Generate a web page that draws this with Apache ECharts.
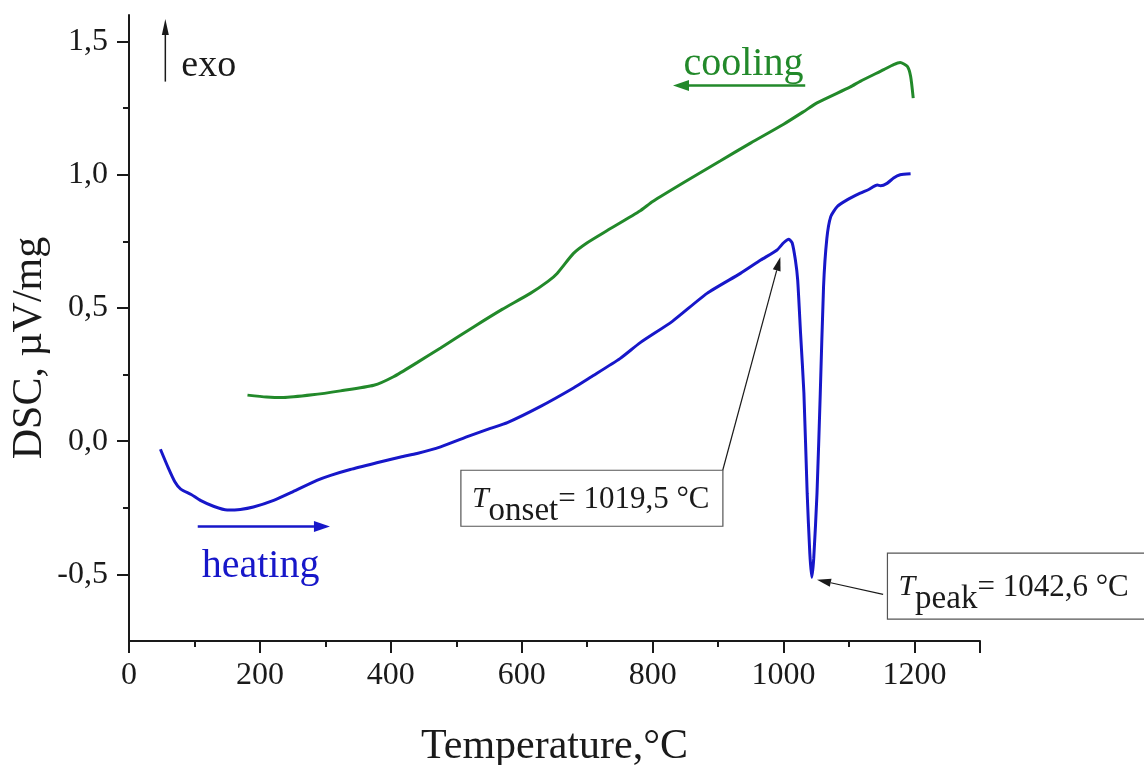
<!DOCTYPE html>
<html>
<head>
<meta charset="utf-8">
<title>DSC curve</title>
<script src="https://cdn.jsdelivr.net/npm/echarts@6/dist/echarts.min.js"></script>
<style>
  html, body { margin: 0; padding: 0; background: #fff; }
  #chart { width: 1144px; height: 765px; }
</style>
</head>
<body>
<div id="chart"></div>
<script>
// heating curve (blue): [temperature °C, DSC µV/mg]
const heating = [
  [48, -0.03], [60, -0.1], [70, -0.152], [79, -0.18], [95, -0.2], [109, -0.222],
  [130, -0.245], [150, -0.258], [170, -0.256], [190, -0.247], [221, -0.222],
  [250, -0.19], [287, -0.147], [308, -0.128], [338, -0.106], [380, -0.08],
  [415, -0.059], [440, -0.046], [476, -0.021], [520, 0.02], [552, 0.048],
  [578, 0.07], [628, 0.13], [679, 0.2], [705, 0.24], [750, 0.31], [781, 0.37],
  [830, 0.45], [883, 0.555], [934, 0.63], [965, 0.68], [990, 0.718],
  [1000, 0.745], [1008, 0.758], [1013, 0.745], [1018, 0.68], [1021.5, 0.605],
  [1026, 0.4], [1031, 0.18], [1036, -0.196], [1040, -0.42], [1043, -0.511],
  [1046, -0.44], [1051, -0.196], [1056, 0.18], [1061, 0.58], [1066, 0.76],
  [1072, 0.843], [1082, 0.881], [1097, 0.906], [1117, 0.931], [1130, 0.945],
  [1143, 0.962], [1148, 0.959], [1158, 0.968], [1168, 0.988], [1178, 1.0],
  [1194, 1.004]
];

// cooling curve (green)
const cooling = [
  [181, 0.173], [210, 0.166], [236, 0.164], [280, 0.174], [323, 0.189],
  [374, 0.21], [404, 0.242], [440, 0.295], [476, 0.35], [527, 0.43],
  [570, 0.495], [613, 0.555], [640, 0.6], [654, 0.63], [679, 0.705],
  [700, 0.745], [730, 0.79], [781, 0.865], [800, 0.9], [850, 0.975],
  [903, 1.052], [950, 1.12], [1000, 1.19], [1031, 1.238], [1051, 1.27],
  [1102, 1.33], [1117, 1.351], [1153, 1.395], [1168, 1.414], [1178, 1.422],
  [1189, 1.407], [1194, 1.37], [1198, 1.288]
];

const xMajorTicks = [0, 200, 400, 600, 800, 1000, 1200];
const xMinorTicks = [100, 300, 500, 700, 900, 1100];
const yMajorTicks = [-0.5, 0, 0.5, 1.0, 1.5];
const yMinorTicks = [-0.25, 0.25, 0.75, 1.25];

const tOnset = '1019,5 °C';
const tPeak = '1042,6 °C';

const BLUE = '#1717c9';
const GREEN = '#22892a';
const INK = '#1a1a1a';
const FONT = 'Liberation Serif';

const chart = echarts.init(document.getElementById('chart'));

const labelStyle = { fontFamily: FONT, fontSize: 32, color: INK };

chart.setOption({
  animation: false,
  backgroundColor: '#fff',
  grid: { left: 129, right: 164, top: 15, bottom: 124, outerBoundsMode: 'none' },
  xAxis: [
    {
      type: 'value', min: 0, max: 1300, position: 'bottom',
      name: 'Temperature,°C', nameLocation: 'middle', nameGap: 85,
      nameTextStyle: { fontFamily: FONT, fontSize: 42, color: INK },
      axisLine: { onZero: false, lineStyle: { color: INK, width: 2 } },
      axisTick: { length: 12, lineStyle: { color: INK, width: 2 }, customValues: xMajorTicks.concat([1300]) },
      axisLabel: Object.assign({ margin: 19, customValues: xMajorTicks, formatter: v => String(v) }, labelStyle),
      splitLine: { show: false }
    },
    {
      type: 'value', min: 0, max: 1300, position: 'bottom',
      axisLine: { show: false, onZero: false },
      axisTick: { length: 6, lineStyle: { color: INK, width: 2 }, customValues: xMinorTicks },
      axisLabel: { show: false },
      splitLine: { show: false }
    }
  ],
  yAxis: [
    {
      type: 'value', min: -0.75, max: 1.6, position: 'left',
      name: 'DSC, µV/mg', nameLocation: 'middle', nameGap: 78, nameRotate: 90,
      nameMoveOverlap: false,
      nameTextStyle: { fontFamily: FONT, fontSize: 42, color: INK, padding: [0, 40, 0, 0] },
      axisLine: { show: true, onZero: false, lineStyle: { color: INK, width: 2 } },
      axisTick: { show: true, length: 12, lineStyle: { color: INK, width: 2 }, customValues: yMajorTicks },
      axisLabel: Object.assign({
        margin: 21, customValues: yMajorTicks,
        formatter: v => v.toFixed(1).replace('.', ',')
      }, labelStyle),
      splitLine: { show: false }
    },
    {
      type: 'value', min: -0.75, max: 1.6, position: 'left',
      axisLine: { show: false, onZero: false },
      axisTick: { show: true, length: 6, lineStyle: { color: INK, width: 2 }, customValues: yMinorTicks },
      axisLabel: { show: false },
      splitLine: { show: false }
    }
  ],
  series: [
    {
      name: 'cooling', type: 'line', data: cooling, showSymbol: false, smooth: 0.2,
      lineStyle: { color: GREEN, width: 3 }, itemStyle: { color: GREEN }
    },
    {
      name: 'heating', type: 'line', data: heating, showSymbol: false, smooth: 0.2,
      lineStyle: { color: BLUE, width: 3 }, itemStyle: { color: BLUE }
    }
  ]
});

// annotations, anchored in data coordinates
const px = p => chart.convertToPixel({ xAxisIndex: 0, yAxisIndex: 0 }, p);

function arrow(from, to, color, width, headLen, headW) {
  const a = px(from), b = px(to);
  const dx = b[0] - a[0], dy = b[1] - a[1];
  const len = Math.hypot(dx, dy);
  const ux = dx / len, uy = dy / len;
  const bx = b[0] - ux * headLen, by = b[1] - uy * headLen;
  return [
    { type: 'line', shape: { x1: a[0], y1: a[1], x2: bx, y2: by }, style: { stroke: color, lineWidth: width } },
    {
      type: 'polygon',
      shape: { points: [[b[0], b[1]], [bx - uy * headW / 2, by + ux * headW / 2], [bx + uy * headW / 2, by - ux * headW / 2]] },
      style: { fill: color }
    }
  ];
}

function text(at, str, color, size) {
  const p = px(at);
  return {
    type: 'text', x: p[0], y: p[1],
    style: { text: str, fill: color, fontFamily: FONT, fontSize: size, verticalAlign: 'middle', align: 'left' }
  };
}

function tempBox(at, w, h, sub, value) {
  const p = px(at);
  return [
    { type: 'rect', shape: { x: p[0], y: p[1], width: w, height: h }, style: { fill: '#fff', stroke: '#555', lineWidth: 1.2 } },
    {
      type: 'text', x: p[0] + 11, y: p[1] + h / 2 + 1,
      style: {
        text: '{t|T}{s|' + sub + '}{v|= ' + value + '}',
        verticalAlign: 'middle', align: 'left',
        rich: {
          t: { fontFamily: FONT, fontSize: 30, fontStyle: 'italic', fill: INK, lineHeight: 30, verticalAlign: 'top' },
          s: { fontFamily: FONT, fontSize: 33, fill: INK, lineHeight: 30, padding: [11, 0, 0, 0], verticalAlign: 'top' },
          v: { fontFamily: FONT, fontSize: 31, fill: INK, lineHeight: 30, verticalAlign: 'top' }
        }
      }
    }
  ];
}

const onsetArrowFrom = [907, -0.109];
const onsetArrowTo = [995, 0.692];
const peakArrowFrom = [1152, -0.575];
const peakArrowTo = [1051, -0.52];

chart.setOption({
  graphic: [].concat(
    arrow([55.5, 1.35], [55.5, 1.585], INK, 1.5, 16, 7),
    [text([80, 1.41], 'exo', INK, 38)],
    arrow([1033, 1.335], [831, 1.335], GREEN, 2.5, 16, 11),
    [text([847, 1.415], 'cooling', GREEN, 40)],
    arrow([105, -0.32], [307, -0.32], BLUE, 2.5, 16, 11),
    [text([111, -0.47], 'heating', BLUE, 40)],
    arrow(onsetArrowFrom, onsetArrowTo, INK, 1.2, 14, 8),
    tempBox([507, -0.109], 262, 56, 'onset', tOnset),
    arrow(peakArrowFrom, peakArrowTo, INK, 1.2, 14, 8),
    tempBox([1158.6, -0.42], 270, 66, 'peak', tPeak)
  )
});
</script>
</body>
</html>
